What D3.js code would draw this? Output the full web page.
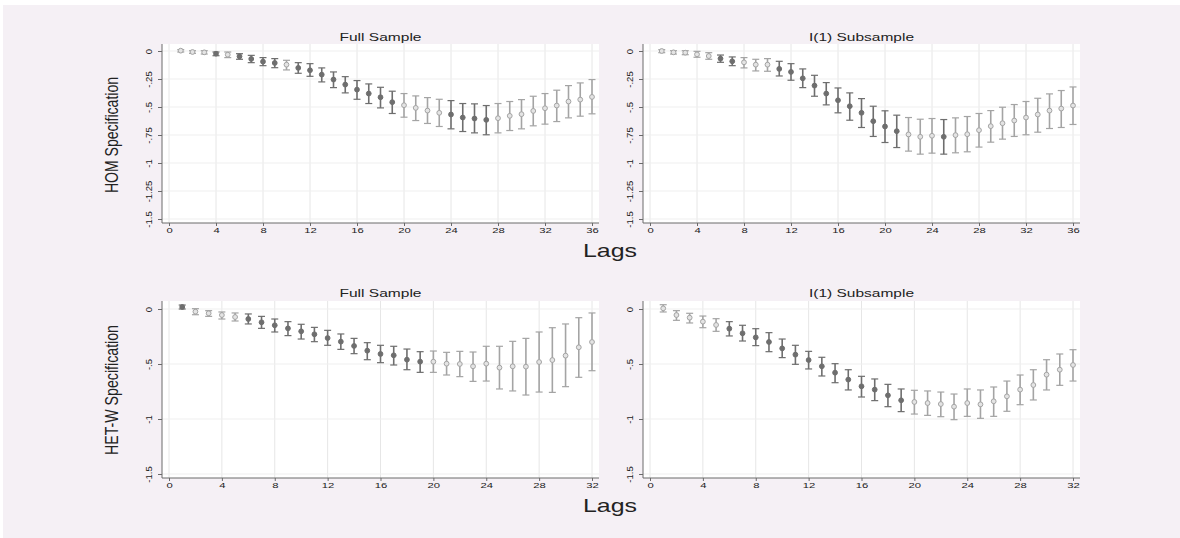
<!DOCTYPE html>
<html>
<head>
<meta charset="utf-8">
<script src="https://cdn.jsdelivr.net/npm/d3@7"></script>
<style>
  body { margin: 0; background: #fff; }
  text { font-family: "Liberation Sans", Arial, sans-serif; fill: #222; }
</style>
</head>
<body>
<div id="chart"></div>
<script>
// HOM specification, full sample (lags 1..36)
const homFullEst = [0.003,-0.009,-0.012,-0.024,-0.033,-0.048,-0.071,-0.095,-0.107,-0.122,-0.151,-0.172,-0.211,-0.255,-0.300,-0.345,-0.380,-0.413,-0.457,-0.484,-0.508,-0.532,-0.552,-0.567,-0.594,-0.603,-0.615,-0.600,-0.579,-0.564,-0.535,-0.511,-0.487,-0.451,-0.434,-0.410];
const homFullHi = [0.012,0.003,0.003,-0.009,-0.009,-0.024,-0.039,-0.059,-0.068,-0.083,-0.104,-0.113,-0.151,-0.187,-0.229,-0.264,-0.294,-0.324,-0.359,-0.380,-0.401,-0.416,-0.431,-0.443,-0.469,-0.472,-0.487,-0.469,-0.451,-0.434,-0.404,-0.380,-0.350,-0.309,-0.285,-0.255];
const homFullLo = [-0.009,-0.021,-0.027,-0.042,-0.059,-0.074,-0.104,-0.131,-0.149,-0.169,-0.199,-0.226,-0.276,-0.327,-0.374,-0.431,-0.469,-0.508,-0.558,-0.591,-0.621,-0.647,-0.674,-0.695,-0.719,-0.731,-0.748,-0.731,-0.710,-0.695,-0.668,-0.653,-0.630,-0.597,-0.582,-0.561];
const homFullDark = [0,0,0,1,0,1,1,1,1,0,1,1,1,1,1,1,1,1,1,0,0,0,0,1,1,1,1,0,0,0,0,0,0,0,0,0];

// HOM specification, I(1) subsample
const homSubEst = [0.000,-0.012,-0.015,-0.030,-0.045,-0.068,-0.092,-0.101,-0.122,-0.122,-0.160,-0.187,-0.244,-0.309,-0.380,-0.440,-0.493,-0.552,-0.627,-0.674,-0.716,-0.745,-0.766,-0.757,-0.766,-0.751,-0.743,-0.707,-0.671,-0.645,-0.621,-0.594,-0.567,-0.532,-0.514,-0.487];
const homSubHi = [0.012,0.003,0.003,-0.003,-0.015,-0.036,-0.053,-0.059,-0.074,-0.068,-0.092,-0.113,-0.160,-0.217,-0.282,-0.330,-0.374,-0.425,-0.493,-0.534,-0.573,-0.594,-0.609,-0.603,-0.612,-0.597,-0.585,-0.558,-0.532,-0.502,-0.478,-0.451,-0.422,-0.383,-0.353,-0.321];
const homSubLo = [-0.015,-0.027,-0.033,-0.056,-0.074,-0.101,-0.131,-0.151,-0.178,-0.181,-0.223,-0.261,-0.327,-0.404,-0.481,-0.552,-0.618,-0.683,-0.763,-0.817,-0.862,-0.894,-0.921,-0.912,-0.921,-0.909,-0.900,-0.858,-0.814,-0.787,-0.763,-0.748,-0.725,-0.692,-0.683,-0.656];
const homSubDark = [0,0,0,0,0,1,1,0,0,0,1,1,1,1,1,1,1,1,1,1,1,0,0,0,1,0,0,0,0,0,0,0,0,0,0,0];

// HET-W specification, full sample (lags 1..32)
const hetFullEst = [0.018,-0.024,-0.039,-0.055,-0.073,-0.091,-0.121,-0.148,-0.176,-0.203,-0.230,-0.264,-0.297,-0.336,-0.379,-0.409,-0.421,-0.461,-0.479,-0.479,-0.497,-0.500,-0.521,-0.497,-0.533,-0.521,-0.524,-0.482,-0.464,-0.424,-0.348,-0.300];
const hetFullHi = [0.036,0.003,-0.015,-0.027,-0.036,-0.045,-0.067,-0.091,-0.115,-0.139,-0.167,-0.194,-0.227,-0.267,-0.306,-0.330,-0.339,-0.364,-0.388,-0.382,-0.394,-0.385,-0.391,-0.339,-0.339,-0.294,-0.267,-0.209,-0.170,-0.136,-0.079,-0.036];
const hetFullLo = [0.000,-0.052,-0.067,-0.091,-0.109,-0.136,-0.176,-0.209,-0.242,-0.273,-0.297,-0.330,-0.367,-0.406,-0.461,-0.488,-0.509,-0.552,-0.576,-0.576,-0.600,-0.615,-0.658,-0.655,-0.727,-0.745,-0.782,-0.755,-0.758,-0.706,-0.621,-0.561];
const hetFullDark = [1,0,0,0,0,1,1,1,1,1,1,1,1,1,1,1,1,1,1,0,0,0,0,0,0,0,0,0,0,0,0,0];

// HET-W specification, I(1) subsample
const hetSubEst = [0.006,-0.055,-0.079,-0.115,-0.145,-0.179,-0.221,-0.258,-0.300,-0.358,-0.415,-0.464,-0.521,-0.579,-0.642,-0.703,-0.733,-0.785,-0.830,-0.845,-0.855,-0.864,-0.888,-0.855,-0.867,-0.839,-0.794,-0.733,-0.691,-0.597,-0.552,-0.509];
const hetSubHi = [0.039,-0.015,-0.039,-0.064,-0.088,-0.115,-0.148,-0.179,-0.215,-0.273,-0.330,-0.385,-0.439,-0.497,-0.552,-0.612,-0.636,-0.685,-0.727,-0.739,-0.745,-0.755,-0.773,-0.727,-0.736,-0.709,-0.655,-0.600,-0.552,-0.461,-0.409,-0.370];
const hetSubLo = [-0.027,-0.103,-0.127,-0.170,-0.203,-0.245,-0.291,-0.333,-0.388,-0.442,-0.503,-0.545,-0.609,-0.670,-0.736,-0.800,-0.833,-0.888,-0.933,-0.955,-0.967,-0.979,-1.006,-0.976,-0.994,-0.976,-0.930,-0.870,-0.827,-0.736,-0.694,-0.655];
const hetSubDark = [0,0,0,0,0,1,1,1,1,1,1,1,1,1,1,1,1,1,1,0,0,0,0,0,0,0,0,0,0,0,0,0];

const topXTicks = [0,4,8,12,16,20,24,28,32,36];
const botXTicks = [0,4,8,12,16,20,24,28,32];
const topYTicks = [0,-0.25,-0.5,-0.75,-1,-1.25,-1.5];
const topYLabels = ["0","-.25","-.5","-.75","-1","-1.25","-1.5"];
const botYTicks = [0,-0.5,-1,-1.5];
const botYLabels = ["0","-.5","-1","-1.5"];
const titles = ["Full Sample","I(1) Subsample"];
const rowLabels = ["HOM Specification","HET-W Specification"];

const w = 1180, h = 538;
const svg = d3.select("#chart").append("svg").attr("width", w).attr("height", h);
svg.append("rect").attr("x",3).attr("y",5).attr("width",w-3).attr("height",h-5).attr("fill","#f5f0f5");

const rows = [
  {top:44, axisY:223, y0:51, y1:219, maxLag:36, xTicks:topXTicks, yTicks:topYTicks, yLabels:topYLabels, titleY:41, label:rowLabels[0], labelY:135, labelLen:116, lagsY:257},
  {top:301, axisY:478, y0:309, y1:474, maxLag:32, xTicks:botXTicks, yTicks:botYTicks, yLabels:botYLabels, titleY:297, label:rowLabels[1], labelY:390, labelLen:130, lagsY:512}
];
const cols = [{left:162, titleLen:82}, {left:643, titleLen:105}];
const panelData = [
  [[homFullEst,homFullLo,homFullHi,homFullDark],[homSubEst,homSubLo,homSubHi,homSubDark]],
  [[hetFullEst,hetFullLo,hetFullHi,hetFullDark],[hetSubEst,hetSubLo,hetSubHi,hetSubDark]]
];

rows.forEach((r,ri)=>{
  cols.forEach((c,ci)=>{
    const [est,lo,hi,dark] = panelData[ri][ci];
    const right = c.left + 437;
    const xScale = d3.scaleLinear().domain([0, r.maxLag]).range([c.left+7, c.left+430]);
    const yScale = d3.scaleLinear().domain([0,-1.5]).range([r.y0, r.y1]);
    const g = svg.append("g");

    g.append("rect").attr("x",c.left).attr("y",r.top)
      .attr("width",right-c.left).attr("height",r.axisY-r.top).attr("fill","#fff");

    // grid
    g.selectAll(".vg").data(r.xTicks).enter().append("line")
      .attr("x1",d=>xScale(d)).attr("x2",d=>xScale(d))
      .attr("y1",r.top).attr("y2",r.axisY)
      .attr("stroke","#e6e6e6").attr("stroke-width",1);
    g.selectAll(".hg").data(r.yTicks).enter().append("line")
      .attr("x1",c.left).attr("x2",right)
      .attr("y1",d=>yScale(d)).attr("y2",d=>yScale(d))
      .attr("stroke","#efefef").attr("stroke-width",1);

    // axes
    const xAxis = d3.axisBottom(xScale).tickValues(r.xTicks).tickSize(3).tickSizeOuter(0);
    const xg = g.append("g").attr("transform",`translate(0,${r.axisY})`).call(xAxis);
    xg.select(".domain").attr("d",`M${c.left},0H${right}`);
    xg.selectAll("text").attr("y",0).attr("dy",0).attr("font-size",9)
      .attr("transform","translate(0,9.5) scale(1.25,0.9)");

    const yAxis = d3.axisLeft(yScale).tickValues(r.yTicks).tickSize(4).tickSizeOuter(0)
      .tickFormat((d,i)=>r.yLabels[i]);
    const yg = g.append("g").attr("transform",`translate(${c.left},0)`).call(yAxis);
    yg.select(".domain").attr("d",`M0,${r.top}V${r.axisY}`);
    yg.selectAll("text").attr("x",null).attr("dy",0).attr("text-anchor","middle")
      .attr("font-size",9.5).attr("transform","translate(-10,0) rotate(-90)");
    [xg,yg].forEach(a=>{
      a.selectAll("path,line").attr("stroke","#6a6a6a");
      a.selectAll("text").attr("fill","#222").style("font-family","'Liberation Sans', Arial, sans-serif");
    });

    // title
    g.append("text").attr("x",(c.left+right)/2).attr("y",r.titleY)
      .attr("text-anchor","middle").attr("font-size",11)
      .attr("textLength",c.titleLen).attr("lengthAdjust","spacingAndGlyphs")
      .text(titles[ci]);

    // error bars + markers
    const pts = est.map((v,i)=>({lag:i+1, est:v, lo:lo[i], hi:hi[i], dark:dark[i]}));
    const col = d=>d.dark ? "#6e6e6e" : "#a4a4a4";
    const pg = g.selectAll(".pt").data(pts).enter().append("g");
    pg.append("line").attr("x1",d=>xScale(d.lag)).attr("x2",d=>xScale(d.lag))
      .attr("y1",d=>yScale(d.hi)).attr("y2",d=>yScale(d.lo))
      .attr("stroke",col).attr("stroke-width",1.6);
    pg.append("line").attr("x1",d=>xScale(d.lag)-3.5).attr("x2",d=>xScale(d.lag)+3.5)
      .attr("y1",d=>yScale(d.hi)).attr("y2",d=>yScale(d.hi))
      .attr("stroke",col).attr("stroke-width",1.2);
    pg.append("line").attr("x1",d=>xScale(d.lag)-3.5).attr("x2",d=>xScale(d.lag)+3.5)
      .attr("y1",d=>yScale(d.lo)).attr("y2",d=>yScale(d.lo))
      .attr("stroke",col).attr("stroke-width",1.2);
    pg.append("circle").attr("cx",d=>xScale(d.lag)).attr("cy",d=>yScale(d.est)).attr("r",2.4)
      .attr("fill",d=>d.dark ? "#6e6e6e" : "#e4e4e4")
      .attr("stroke",col).attr("stroke-width",1);
  });

  // row label
  svg.append("text").attr("font-size",19).attr("text-anchor","middle")
    .attr("transform",`translate(118,${r.labelY}) rotate(-90)`)
    .attr("textLength",r.labelLen).attr("lengthAdjust","spacingAndGlyphs")
    .text(r.label);

  svg.append("text").attr("x",610).attr("y",r.lagsY).attr("font-size",19)
    .attr("text-anchor","middle").attr("textLength",54).attr("lengthAdjust","spacingAndGlyphs")
    .text("Lags");
});
</script>
</body>
</html>
